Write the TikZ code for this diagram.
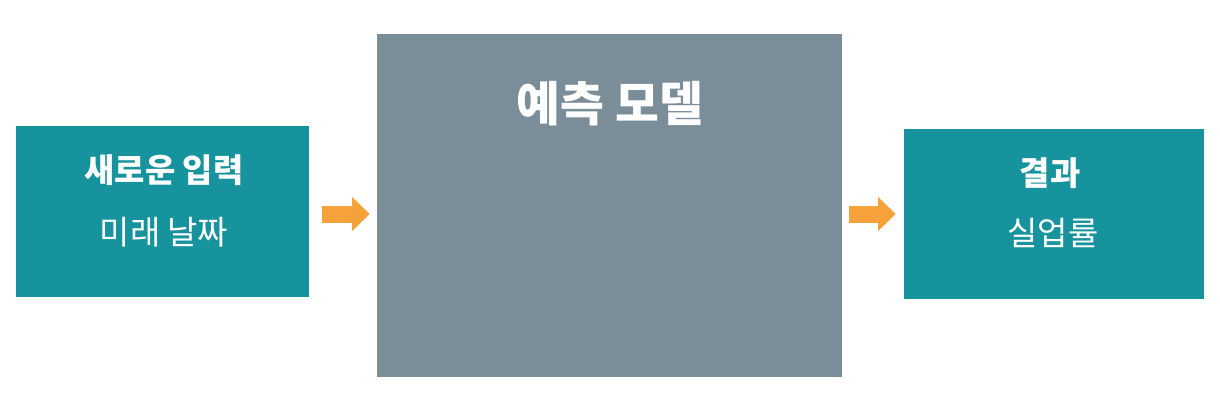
\documentclass[tikz,border=0pt]{standalone}
\usepackage{fontspec}
\setmainfont{Noto Sans CJK KR}
\usetikzlibrary{arrows.meta}
\definecolor{tealbox}{HTML}{17939D}
\definecolor{greybox}{HTML}{7A8D99}
\definecolor{arroworange}{HTML}{F6A23B}
\tikzset{
  box/.style={rectangle, inner sep=0pt, draw=none},
  boldlbl/.style={text=white, font=\fontsize{28}{33}\selectfont\bfseries, inner sep=0pt},
  reglbl/.style={text=white, font=\fontsize{28}{33}\selectfont, inner sep=0pt},
  titlelbl/.style={text=white, font=\fontsize{40.5}{46}\selectfont\bfseries, inner sep=0pt},
  fatarrow/.style={draw=arroworange, line width=14.45pt,
    -{Triangle[length=15pt, width=28pt, fill=arroworange]}}
}
\begin{document}
\begin{tikzpicture}[x=0.85pt, y=-0.85pt]
\useasboundingbox[fill=white] (0,0) rectangle (1220,411);
\node[box, fill=tealbox, minimum width=249.05pt, minimum height=145.35pt] (inp) at (162.5,211.5) {};
\node[box, fill=greybox, minimum width=395.25pt, minimum height=291.55pt] (model) at (609.5,205.5) {};
\node[box, fill=tealbox, minimum width=255pt, minimum height=144.5pt] (res) at (1054,214) {};
\node[boldlbl] (inpt) at (164,170) {새로운 입력};
\node[reglbl] (inps) at (164,232) {미래 날짜};
\node[titlelbl] (modelt) at (610,104) {예측 모델};
\node[boldlbl] (rest) at (1050,173) {결과};
\node[reglbl] (ress) at (1053,233) {실업률};
\coordinate (a1s) at (inp.east |- 0,214);
\coordinate (a1e) at (model.west |- 0,214);
\coordinate (a2s) at (model.east |- 0,214);
\coordinate (a2e) at (res.west |- 0,214);
\draw[fatarrow, shorten <=11.05pt, shorten >=5.95pt] (a1s) -- (a1e);
\draw[fatarrow, shorten <=5.95pt, shorten >=6.8pt] (a2s) -- (a2e);
\end{tikzpicture}
\end{document}
